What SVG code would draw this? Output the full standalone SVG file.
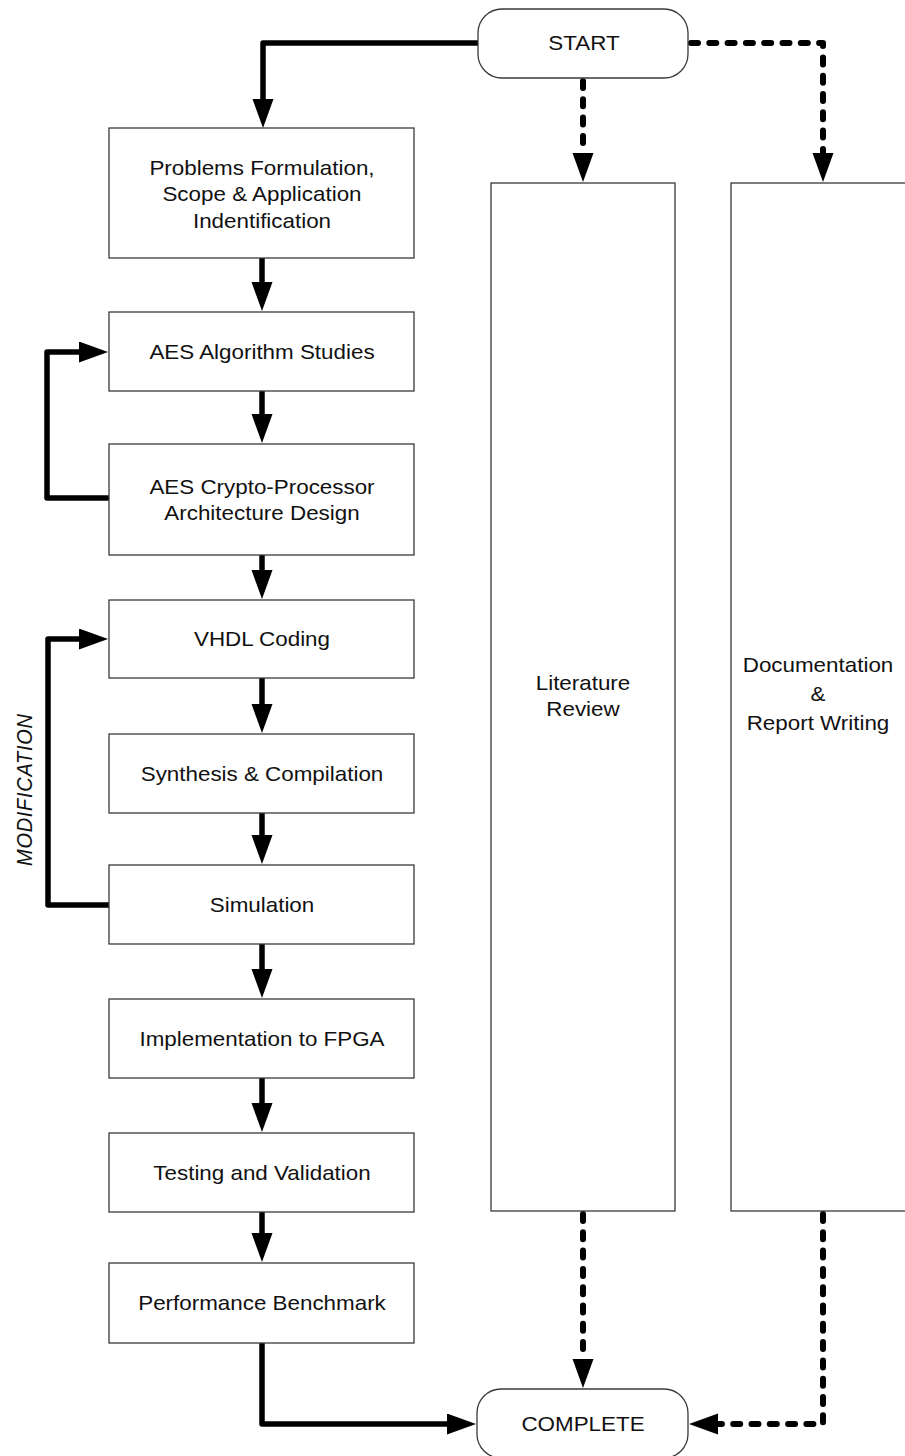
<svg xmlns="http://www.w3.org/2000/svg" width="905" height="1456" viewBox="0 0 905 1456">
<style>
.box{fill:#fff;stroke:#3a3a3a;stroke-width:1.3}
.t{font-family:"Liberation Sans",Arial,sans-serif;font-size:20px;fill:#111;text-anchor:middle}
.it{font-style:italic}
.solid{fill:none;stroke:#000;stroke-width:5.5;stroke-linecap:round;stroke-linejoin:round}
.dot{fill:none;stroke:#000;stroke-width:6;stroke-linecap:round;stroke-linejoin:round;stroke-dasharray:7 11.3}
</style>
<defs>
<marker id="ah" markerUnits="userSpaceOnUse" markerWidth="30" markerHeight="22" refX="1" refY="10.5" orient="auto">
<path d="M0,0 L29,10.5 L0,21 Z" fill="#000"/>
</marker>
</defs>
<rect width="905" height="1456" fill="#fff"/>

<g id="connectors">
<path class="solid" d="M478,43 H263 V100" marker-end="url(#ah)"/>
<path class="dot" d="M583,81 V154" marker-end="url(#ah)"/>
<path class="dot" d="M691,43 H823 V154" marker-end="url(#ah)"/>
<path class="solid" d="M262,258 V283" marker-end="url(#ah)"/>
<path class="solid" d="M262,391 V415" marker-end="url(#ah)"/>
<path class="solid" d="M109,498 H47 V352 H80" marker-end="url(#ah)"/>
<path class="solid" d="M262,555 V571" marker-end="url(#ah)"/>
<path class="solid" d="M262,678 V705" marker-end="url(#ah)"/>
<path class="solid" d="M109,905 H48 V639 H80" marker-end="url(#ah)"/>
<path class="solid" d="M262,813 V836" marker-end="url(#ah)"/>
<path class="solid" d="M262,944 V970" marker-end="url(#ah)"/>
<path class="solid" d="M262,1078 V1104" marker-end="url(#ah)"/>
<path class="solid" d="M262,1212 V1234" marker-end="url(#ah)"/>
<path class="solid" d="M262,1343 V1424 H448" marker-end="url(#ah)"/>
<path class="dot" d="M583,1214 V1360" marker-end="url(#ah)"/>
<path class="dot" d="M823,1214 V1424 H717" marker-end="url(#ah)"/>
<text class="t it" transform="translate(32,790) scale(1.12,1) rotate(-90)" x="0" y="0" textLength="152" lengthAdjust="spacing">MODIFICATION</text>
</g>

<g id="start">
<rect class="box" x="478" y="9" width="210" height="69" rx="24" ry="24"/>
<text class="t" transform="translate(584,50) scale(1.12,1)">START</text>
</g>
<g id="problems">
<rect class="box" x="109" y="128" width="305" height="130"/>
<text class="t" transform="translate(262,175) scale(1.12,1)"><tspan x="0" y="0">Problems Formulation,</tspan><tspan x="0" y="26.5">Scope &amp; Application</tspan><tspan x="0" y="53">Indentification</tspan></text>
</g>
<g id="aes-studies">
<rect class="box" x="109" y="312" width="305" height="79"/>
<text class="t" transform="translate(262,358.5) scale(1.12,1)">AES Algorithm Studies</text>
</g>
<g id="aes-design">
<rect class="box" x="109" y="444" width="305" height="111"/>
<text class="t" transform="translate(262,493.5) scale(1.12,1)"><tspan x="0" y="0">AES Crypto-Processor</tspan><tspan x="0" y="27">Architecture Design</tspan></text>
</g>
<g id="vhdl">
<rect class="box" x="109" y="600" width="305" height="78"/>
<text class="t" transform="translate(262,646) scale(1.12,1)">VHDL Coding</text>
</g>
<g id="synthesis">
<rect class="box" x="109" y="734" width="305" height="79"/>
<text class="t" transform="translate(262,780.5) scale(1.12,1)">Synthesis &amp; Compilation</text>
</g>
<g id="simulation">
<rect class="box" x="109" y="865" width="305" height="79"/>
<text class="t" transform="translate(262,911.5) scale(1.12,1)">Simulation</text>
</g>
<g id="implementation">
<rect class="box" x="109" y="999" width="305" height="79"/>
<text class="t" transform="translate(262,1045.5) scale(1.12,1)">Implementation to FPGA</text>
</g>
<g id="testing">
<rect class="box" x="109" y="1133" width="305" height="79"/>
<text class="t" transform="translate(262,1179.5) scale(1.12,1)">Testing and Validation</text>
</g>
<g id="benchmark">
<rect class="box" x="109" y="1263" width="305" height="80"/>
<text class="t" transform="translate(262,1310) scale(1.12,1)">Performance Benchmark</text>
</g>
<g id="literature">
<rect class="box" x="491" y="183" width="184" height="1028"/>
<text class="t" transform="translate(583,690) scale(1.12,1)"><tspan x="0" y="0">Literature</tspan><tspan x="0" y="26">Review</tspan></text>
</g>
<g id="documentation">
<rect class="box" x="731" y="183" width="177" height="1028"/>
<text class="t" transform="translate(818,672) scale(1.12,1)"><tspan x="0" y="0">Documentation</tspan><tspan x="0" y="29">&amp;</tspan><tspan x="0" y="58">Report Writing</tspan></text>
</g>
<g id="complete">
<rect class="box" x="477" y="1389" width="211" height="69" rx="24" ry="24"/>
<text class="t" transform="translate(583,1431) scale(1.12,1)">COMPLETE</text>
</g>
</svg>
